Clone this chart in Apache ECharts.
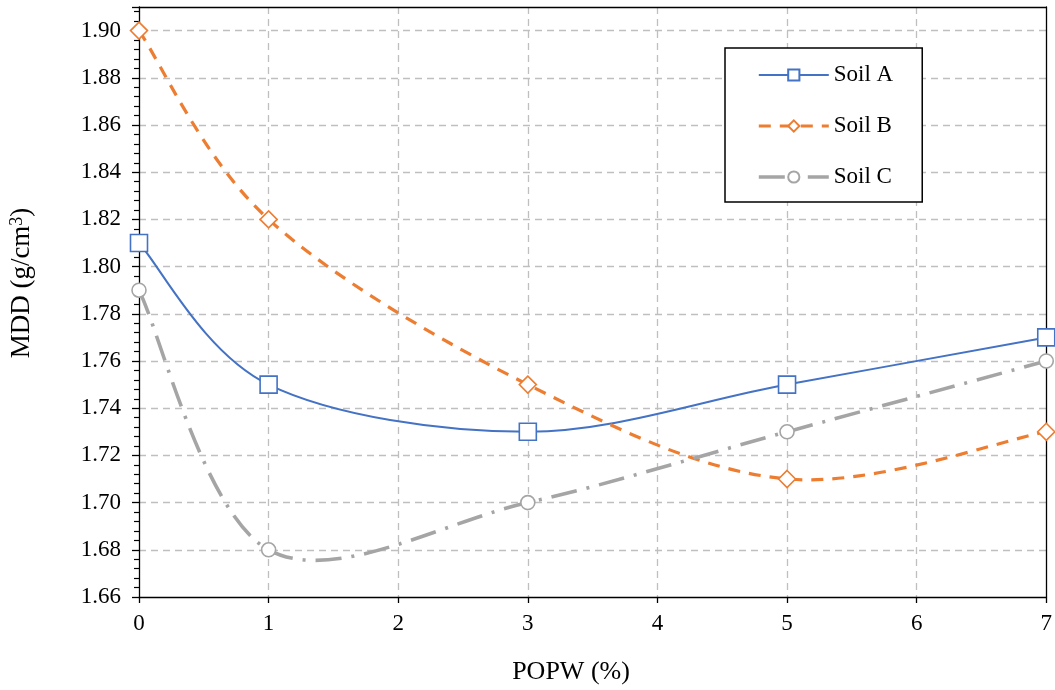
<!DOCTYPE html>
<html><head><meta charset="utf-8">
<script src="https://cdn.jsdelivr.net/npm/echarts@6/dist/echarts.min.js"></script>
<style>html,body{margin:0;padding:0;background:#fff}#c{width:1055px;height:690px}</style>
</head><body><div id="c"></div>
<script>
const popw = [0, 1, 3, 5, 7];
const soilA = [1.81, 1.75, 1.73, 1.75, 1.77];
const soilB = [1.90, 1.82, 1.75, 1.71, 1.73];
const soilC = [1.79, 1.68, 1.70, 1.73, 1.76];
const seriesNames = ['Soil A', 'Soil B', 'Soil C'];
const seriesColors = ['#4472C4', '#ED7D31', '#A5A5A5'];
const xTitle = 'POPW (%)';
const yTitle = 'MDD (g/cm{sup|3})';

const FONT = '"Liberation Serif", "Times New Roman", serif';
const pair = (ys) => popw.map((x, i) => [x, ys[i]]);

const lineStyles = [
  { width: 2, dash: null },
  { width: 3.2, dash: [12, 9] },
  { width: 3.6, dash: [26, 10, 3, 10] }
];

// Excel-like smoothed curve (Catmull-Rom Bezier) through the data points, placed via the axes
function curveSeries(idx, ys) {
  const pts = pair(ys);
  return {
    type: 'custom', name: seriesNames[idx] + ' curve', silent: true, z: 1,
    data: pts,
    renderItem: function (params, api) {
      if (params.dataIndex !== 0) return null;
      const P = pts.map(p => api.coord(p));
      const n = P.length;
      let d = 'M' + P[0][0] + ' ' + P[0][1];
      for (let i = 0; i < n - 1; i++) {
        const p0 = P[Math.max(i - 1, 0)], p1 = P[i], p2 = P[i + 1], p3 = P[Math.min(i + 2, n - 1)];
        const c1x = p1[0] + (p2[0] - p0[0]) / 6, c1y = p1[1] + (p2[1] - p0[1]) / 6;
        const c2x = p2[0] - (p3[0] - p1[0]) / 6, c2y = p2[1] - (p3[1] - p1[1]) / 6;
        d += ' C' + c1x + ' ' + c1y + ' ' + c2x + ' ' + c2y + ' ' + p2[0] + ' ' + p2[1];
      }
      return {
        type: 'path',
        shape: { pathData: d },
        style: { fill: 'none', stroke: seriesColors[idx], lineWidth: lineStyles[idx].width,
          lineDash: lineStyles[idx].dash, lineCap: 'butt' }
      };
    }
  };
}

function markerSeries(idx, ys, symbol, size) {
  return {
    name: seriesNames[idx], type: 'line', data: pair(ys),
    symbol: symbol, symbolSize: size, color: seriesColors[idx], z: 3,
    lineStyle: { color: seriesColors[idx], width: lineStyles[idx].width, opacity: 0 },
    itemStyle: { color: '#fff', borderColor: seriesColors[idx], borderWidth: 1.6 }
  };
}

const axisLineStyle = { color: '#000', width: 1.3 };
const splitStyle = { color: '#BFBFBF', type: [7, 5], width: 1.3 };

const chart = echarts.init(document.getElementById('c'));
chart.setOption({
  animation: false,
  backgroundColor: '#fff',
  grid: { left: 139, right: 7, top: 7, bottom: 93 },
  xAxis: [{
    type: 'value', min: 0, max: 7, interval: 1,
    axisLine: { show: true, lineStyle: axisLineStyle },
    axisTick: { show: true, length: 6, lineStyle: axisLineStyle },
    axisLabel: { color: '#000', fontFamily: FONT, fontSize: 23, margin: 15 },
    splitLine: { show: true, showMinLine: false, showMaxLine: false, lineStyle: splitStyle }
  }, {
    type: 'value', min: 0, max: 7, position: 'top',
    axisLine: { show: true, onZero: false, lineStyle: axisLineStyle },
    axisTick: { show: false }, axisLabel: { show: false }, splitLine: { show: false }
  }],
  yAxis: [{
    type: 'value', min: 1.66, max: 1.91, interval: 0.02,
    axisLine: { show: true, lineStyle: axisLineStyle },
    axisTick: { show: true, length: 7, lineStyle: axisLineStyle },
    minorTick: { show: true, splitNumber: 5, length: 5, lineStyle: { color: '#000', width: 1.2 } },
    axisLabel: {
      color: '#000', fontFamily: FONT, fontSize: 23, margin: 18,
      formatter: (v) => {
        const k = Math.round((v - 1.66) / 0.02 * 1000) / 1000;
        return Number.isInteger(k) ? v.toFixed(2) : '';
      }
    },
    splitLine: { show: true, showMinLine: false, showMaxLine: false, lineStyle: splitStyle }
  }, {
    type: 'value', min: 1.66, max: 1.91, position: 'right',
    axisLine: { show: true, onZero: false, lineStyle: axisLineStyle },
    axisTick: { show: false }, axisLabel: { show: false }, splitLine: { show: false }
  }],
  legend: {
    orient: 'vertical', left: 725, top: 48,
    backgroundColor: '#fff', borderColor: '#000', borderWidth: 1.5,
    padding: [15, 29, 13, 32],
    itemWidth: 70, itemHeight: 14, itemGap: 27,
    textStyle: { color: '#000', fontFamily: FONT, fontSize: 23, lineHeight: 24 },
    data: seriesNames.map((n, i) => ({
      name: n,
      lineStyle: { opacity: 1, color: seriesColors[i], width: lineStyles[i].width,
        type: lineStyles[i].dash || 'solid' }
    }))
  },
  graphic: [
    { type: 'text', x: 571, y: 672, style: { text: xTitle, font: '26px ' + FONT, fill: '#000', align: 'center', verticalAlign: 'middle' } },
    { type: 'text', x: 22, y: 283, rotation: Math.PI / 2,
      style: { text: yTitle, font: '27px ' + FONT, fill: '#000', align: 'center', verticalAlign: 'middle',
        rich: { sup: { fontSize: 18, fontFamily: FONT, verticalAlign: 'top', padding: [0, 0, 10, 0] } } } }
  ],
  series: [
    curveSeries(0, soilA), curveSeries(1, soilB), curveSeries(2, soilC),
    markerSeries(0, soilA, 'rect', 17),
    markerSeries(1, soilB, 'diamond', 17),
    markerSeries(2, soilC, 'circle', 14)
  ]
});
</script></body></html>
